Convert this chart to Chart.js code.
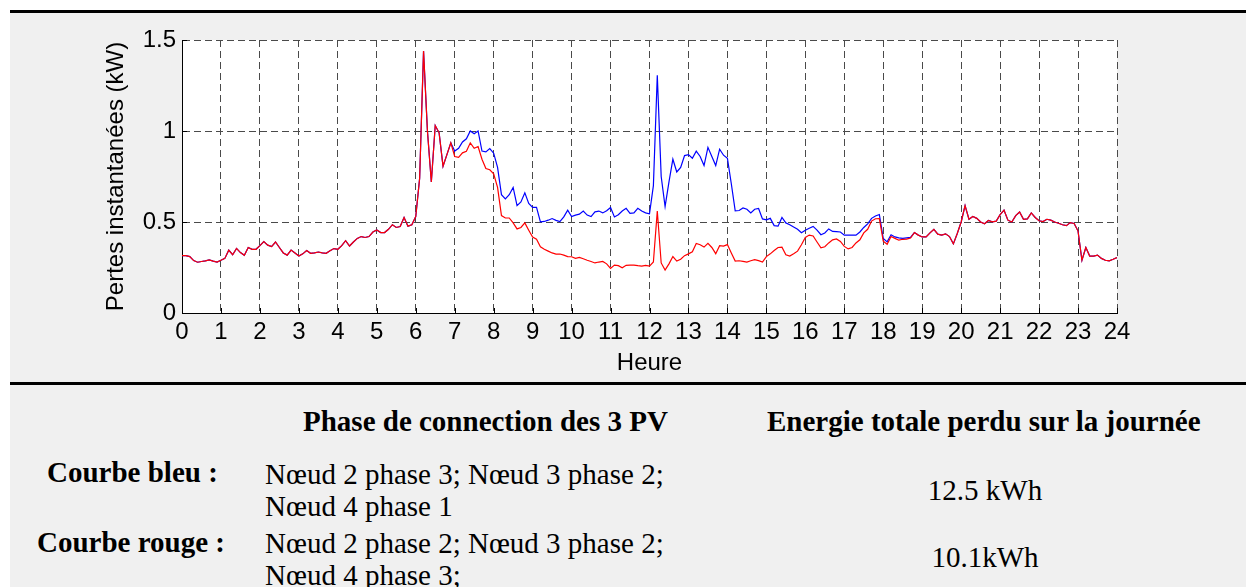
<!DOCTYPE html>
<html lang="fr">
<head>
<meta charset="utf-8">
<script src="https://cdn.jsdelivr.net/npm/chart.js@4/dist/chart.umd.min.js"></script>
<style>
  html, body { margin: 0; padding: 0; background: #fff; }
  #page { position: relative; width: 1246px; height: 587px; overflow: hidden; }
  #fond { position: absolute; left: 10px; top: 10px; right: 0; bottom: 0; background: #f0f0f0; }
  .trait { position: absolute; left: 10px; right: 0; height: 3px; background: #000; }
  #courbes { position: absolute; left: 0; top: 0; }
  .cell { position: absolute; white-space: nowrap; font-family: "Liberation Serif", "Times New Roman", serif;
          font-size: 29px; line-height: 32px; color: #000; }
  .centre { transform: translateX(-50%); }
  .gras { font-weight: bold; }
</style>
</head>
<body>
<div id="page">
  <div id="fond"></div>
  <div class="trait" style="top:10px"></div>
  <canvas id="courbes" width="1246" height="383"></canvas>
  <div class="trait" style="top:382px"></div>

  <div class="cell gras" style="left:303px; top:405px">Phase de connection des 3 PV</div>
  <div class="cell gras" style="left:767px; top:405px">Energie totale perdu sur la journée</div>

  <div class="cell gras" style="left:47px; top:456px">Courbe bleu :</div>
  <div class="cell" style="left:265px; top:458px">Nœud 2 phase 3; Nœud 3 phase 2;</div>
  <div class="cell" style="left:265px; top:490px">Nœud 4 phase 1</div>
  <div class="cell centre" style="left:985px; top:474px">12.5 kWh</div>

  <div class="cell gras" style="left:37px; top:526px">Courbe rouge :</div>
  <div class="cell" style="left:265px; top:527px">Nœud 2 phase 2; Nœud 3 phase 2;</div>
  <div class="cell" style="left:265px; top:559px">Nœud 4 phase 3;</div>
  <div class="cell centre" style="left:985px; top:541px">10.1kWh</div>
</div>

<script>
// pertes instantanées (kW), un relevé toutes les 6 minutes (0,1 h)
const pas = 0.1;

// 0h00 - 6h54 : les deux configurations donnent la même courbe
const debutCommun = [
  0.315, 0.315, 0.31, 0.288, 0.279, 0.283, 0.286, 0.292, 0.285, 0.28,
  0.29, 0.30, 0.345, 0.32, 0.355, 0.332, 0.317, 0.36, 0.35, 0.35,
  0.37, 0.392, 0.373, 0.365, 0.39, 0.36, 0.33, 0.318, 0.346, 0.33,
  0.313, 0.325, 0.343, 0.328, 0.33, 0.335, 0.33, 0.328, 0.342, 0.354,
  0.35, 0.37, 0.397, 0.368, 0.39, 0.41, 0.42, 0.415, 0.42, 0.445,
  0.456, 0.442, 0.442, 0.46, 0.485, 0.47, 0.475, 0.525, 0.477, 0.485,
  0.53, 0.74, 1.44, 1.0, 0.72, 1.03, 0.99, 0.806, 0.87, 0.935
];

// 7h00 - 18h54, courbe bleue
const bleuMilieu = [
  0.89, 0.905, 0.94, 0.957, 1.0, 0.985, 1.0, 0.89, 0.885, 0.903,
  0.878, 0.80, 0.65, 0.627, 0.65, 0.69, 0.59, 0.61, 0.66, 0.602,
  0.58, 0.58, 0.501, 0.503, 0.51, 0.519, 0.509, 0.502, 0.528, 0.565,
  0.53, 0.538, 0.543, 0.56, 0.538, 0.53, 0.556, 0.56, 0.55, 0.562,
  0.58, 0.528, 0.54, 0.56, 0.575, 0.547, 0.55, 0.575, 0.56, 0.55,
  0.545, 0.70, 1.306, 0.75, 0.585, 0.72, 0.845, 0.775, 0.80, 0.865,
  0.87, 0.85, 0.889, 0.86, 0.81, 0.91, 0.86, 0.81, 0.90, 0.867,
  0.85, 0.71, 0.561, 0.563, 0.577, 0.57, 0.55, 0.57, 0.574, 0.517,
  0.512, 0.52, 0.48, 0.477, 0.525, 0.495, 0.485, 0.472, 0.46, 0.441,
  0.455, 0.466, 0.476, 0.455, 0.43, 0.44, 0.462, 0.448, 0.447, 0.445,
  0.428, 0.428, 0.428, 0.428, 0.445, 0.47, 0.49, 0.52, 0.533, 0.541,
  0.41, 0.391, 0.43, 0.418, 0.413, 0.41, 0.413, 0.415, 0.442, 0.428
];

// 7h00 - 18h54, courbe rouge
const rougeMilieu = [
  0.86, 0.855, 0.88, 0.889, 0.935, 0.905, 0.915, 0.845, 0.794, 0.787,
  0.765, 0.69, 0.535, 0.522, 0.522, 0.495, 0.462, 0.47, 0.495, 0.455,
  0.417, 0.405, 0.364, 0.35, 0.34, 0.33, 0.324, 0.324, 0.318, 0.31,
  0.309, 0.30, 0.305, 0.298, 0.29, 0.283, 0.275, 0.28, 0.283, 0.27,
  0.245, 0.263, 0.26, 0.248, 0.262, 0.263, 0.263, 0.26, 0.258, 0.262,
  0.258, 0.28, 0.56, 0.275, 0.236, 0.27, 0.31, 0.285, 0.295, 0.315,
  0.325, 0.336, 0.382, 0.375, 0.362, 0.383, 0.36, 0.326, 0.37, 0.368,
  0.376, 0.33, 0.285, 0.287, 0.284, 0.28, 0.287, 0.293, 0.288, 0.28,
  0.31, 0.325, 0.343, 0.36, 0.362, 0.32, 0.313, 0.325, 0.34, 0.375,
  0.415, 0.428, 0.423, 0.39, 0.358, 0.364, 0.385, 0.402, 0.407, 0.393,
  0.366, 0.352, 0.36, 0.385, 0.402, 0.44, 0.46, 0.505, 0.518, 0.519,
  0.395, 0.378, 0.42, 0.41, 0.40, 0.405, 0.406, 0.412, 0.442, 0.428
];

// 19h00 - 24h00 : de nouveau identiques
const finCommune = [
  0.418, 0.418, 0.44, 0.46, 0.433, 0.428, 0.435, 0.42, 0.38, 0.437,
  0.50, 0.59, 0.515, 0.53, 0.52, 0.50, 0.49, 0.508, 0.501, 0.505,
  0.54, 0.565, 0.51, 0.50, 0.535, 0.555, 0.515, 0.517, 0.55, 0.525,
  0.507, 0.502, 0.515, 0.51, 0.50, 0.493, 0.485, 0.48, 0.497, 0.492,
  0.45, 0.29, 0.36, 0.313, 0.313, 0.318, 0.30, 0.29, 0.287, 0.295,
  0.305
];

const courbeBleue = [...debutCommun, ...bleuMilieu, ...finCommune];
const courbeRouge = [...debutCommun, ...rougeMilieu, ...finCommune];

const heuresTicks = [0, 24, 1];      // min, max, pas
const pertesTicks = [0, 1.5, 0.5];

function enPoints(valeurs) {
  return valeurs.map((v, i) => ({x: +(i * pas).toFixed(1), y: v}))
}

Chart.defaults.font.family = '"Liberation Sans", Arial, sans-serif';
Chart.defaults.color = '#000';

// fond blanc de la zone de tracé + petites graduations vers l'intérieur
const zoneTrace = {
  id: 'zoneTrace',
  beforeDraw(chart) {
    const {ctx, chartArea: a} = chart;
    ctx.save();
    ctx.fillStyle = '#fff';
    ctx.fillRect(a.left, a.top, a.right - a.left, a.bottom - a.top);
    ctx.restore();
  },
  afterDraw(chart) {
    const {ctx, chartArea: a, scales} = chart;
    ctx.save();
    ctx.strokeStyle = '#000';
    ctx.lineWidth = 1;
    ctx.beginPath();
    scales.x.ticks.forEach(t => {
      const px = Math.round(scales.x.getPixelForValue(t.value)) + 0.5;
      ctx.moveTo(px, a.bottom);
      ctx.lineTo(px, a.bottom - 5);
    });
    scales.y.ticks.forEach(t => {
      const py = Math.round(scales.y.getPixelForValue(t.value)) + 0.5;
      ctx.moveTo(a.left, py);
      ctx.lineTo(a.left + 5, py);
    });
    ctx.stroke();
    ctx.restore();
  }
};

const grille = {
  color: '#4a4a4a',
  lineWidth: 1,
  drawTicks: false
};

new Chart(document.getElementById('courbes').getContext('2d'), {
  type: 'line',
  data: {
    datasets: [{
      label: 'Courbe bleu',
      data: enPoints(courbeBleue),
      borderColor: '#0000ff',
      borderWidth: 1.2,
      pointRadius: 0,
      tension: 0,
      order: 1
    }, {
      label: 'Courbe rouge',
      data: enPoints(courbeRouge),
      borderColor: '#ff0000',
      borderWidth: 1.2,
      pointRadius: 0,
      tension: 0,
      order: 0
    }]
  },
  options: {
    responsive: false,
    animation: false,
    devicePixelRatio: 1,
    layout: {padding: {top: 40, right: 129, left: 0, bottom: 0}},
    plugins: {legend: {display: false}, tooltip: {enabled: false}},
    scales: {
      x: {
        type: 'linear',
        min: heuresTicks[0], max: heuresTicks[1],
        ticks: {stepSize: heuresTicks[2], padding: 5, font: {size: 24}, maxRotation: 0,
                callback: v => String(v)},
        grid: grille,
        border: {display: true, color: '#000', width: 1, dash: [7, 4]},
        title: {display: true, text: 'Heure', font: {size: 24}, padding: {top: 0, bottom: 5}},
        afterFit: s => { s.height = 70 }
      },
      y: {
        min: pertesTicks[0], max: pertesTicks[1],
        ticks: {stepSize: pertesTicks[2], padding: 6, font: {size: 24},
                callback: v => String(v)},
        grid: grille,
        border: {display: true, color: '#000', width: 1, dash: [7, 4]},
        title: {display: true, text: 'Pertes instantanées (kW)', font: {size: 24}, padding: {top: 102, bottom: 0}},
        afterFit: s => { s.width = 182 }
      }
    }
  },
  plugins: [zoneTrace]
});
</script>
</body>
</html>
